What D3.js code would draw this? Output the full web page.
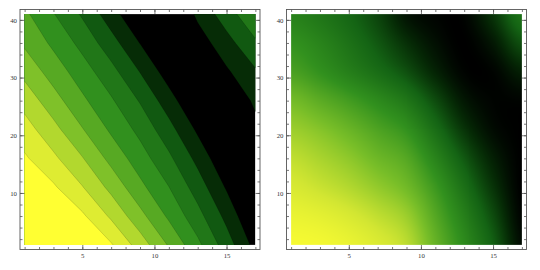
<!DOCTYPE html>
<html>
<head>
<meta charset="utf-8">
<script src="https://cdn.jsdelivr.net/npm/d3@7"></script>
<style>
  body { margin: 0; background: #fff; }
  svg { display: block; }
  .tick text { font-family: "Liberation Serif", "DejaVu Serif", serif; font-size: 6.8px; }
  .tick line { stroke: #555; stroke-width: 0.8; }
</style>
</head>
<body>
<div class="chart"></div>
<script>
// grid nodes (data coords)
const gridX = [1, 3, 5, 7, 9, 11, 13, 15, 17];
const gridY = [1, 6, 11, 16, 21, 26, 31, 36, 41];

const xTicks = [5, 10, 15];
const yTicks = [10, 20, 30, 40];

// contour levels, left panel
const contourLevels = [1, 2, 3, 4, 5, 6, 7, 8, 9];

// left panel values, rows from y=1 (bottom) to y=41 (top)
const contourRows = [
  [12.5, 11.5, 10.5, 9.1, 7.54, 5.9, 4.25, 2.5, 0.65],
  [11.8, 10.5, 9.17, 7.83, 6.32, 4.82, 3.35, 1.71, -0.1],
  [10.24, 9.14, 8.05, 6.71, 5.27, 4.02, 2.53, 0.89, -0.5],
  [9.14, 8.21, 7.06, 5.69, 4.46, 3.21, 1.70, 0.09, -0.3],
  [8.44, 7.32, 6.06, 4.83, 3.72, 2.36, 0.82, -0.3, 0.55],
  [7.62, 6.41, 5.2, 4.13, 2.92, 1.45, -0.07, -0.4, 1.28],
  [6.7, 5.55, 4.47, 3.34, 1.97, 0.48, -0.4, 0.85, 1.87],
  [5.83, 4.79, 3.69, 2.41, 0.97, -0.4, 0.47, 1.62, 2.85],
  [5.2, 4.05, 2.87, 1.43, 0.0, -0.4, 1.22, 2.53, 3.84]
];

// right panel values (0..1), rows from y=1 (bottom) to y=41 (top)
const densityRows = [
  [0.97, 0.96, 0.93, 0.88, 0.80, 0.60, 0.42, 0.24, 0.03],
  [0.93, 0.91, 0.87, 0.81, 0.73, 0.55, 0.37, 0.19, 0.01],
  [0.87, 0.83, 0.78, 0.71, 0.63, 0.48, 0.30, 0.13, 0.00],
  [0.81, 0.76, 0.70, 0.62, 0.55, 0.39, 0.22, 0.08, 0.00],
  [0.73, 0.68, 0.61, 0.53, 0.45, 0.29, 0.13, 0.03, 0.00],
  [0.64, 0.57, 0.50, 0.42, 0.33, 0.19, 0.06, 0.01, 0.01],
  [0.52, 0.45, 0.37, 0.29, 0.20, 0.09, 0.01, 0.01, 0.08],
  [0.45, 0.39, 0.31, 0.22, 0.12, 0.04, 0.00, 0.06, 0.20],
  [0.38, 0.33, 0.26, 0.17, 0.05, 0.01, 0.01, 0.13, 0.31]
];

// avocado-like ramp: black -> green -> yellow
const ramp = d3.scaleLinear()
    .domain([0, 0.1, 0.25, 0.45, 0.65, 0.85, 1])
    .range(["#000000", "#052805", "#146414", "#32911e", "#78be28", "#d2e632", "#ffff32"])
    .clamp(true);
const bandColor = k => ramp(k / contourLevels.length);

const frameSize = 240, frameTop = 9.5;
const padX = 0.02 * (gridX[gridX.length - 1] - gridX[0]),
      padY = 0.02 * (gridY[gridY.length - 1] - gridY[0]);

const svg = d3.select(".chart").append("svg")
    .attr("width", 540)
    .attr("height", 270);

function makeScales(left) {
    const x = d3.scaleLinear()
        .domain([gridX[0] - padX, gridX[gridX.length - 1] + padX])
        .range([left, left + frameSize]);
    const y = d3.scaleLinear()
        .domain([gridY[0] - padY, gridY[gridY.length - 1] + padY])
        .range([frameTop + frameSize, frameTop]);
    return { x, y };
}

function drawFrame(g, x, y, left) {
    const bottom = frameTop + frameSize, right = left + frameSize;
    const axes = g.append("g").attr("color", "#333");

    // minor ticks
    axes.append("g").attr("transform", "translate(0," + bottom + ")")
        .call(d3.axisBottom(x).ticks(16).tickSizeInner(-2.5).tickSizeOuter(0).tickFormat(""));
    axes.append("g").attr("transform", "translate(0," + frameTop + ")")
        .call(d3.axisTop(x).ticks(16).tickSizeInner(-2.5).tickSizeOuter(0).tickFormat(""));
    axes.append("g").attr("transform", "translate(" + left + ",0)")
        .call(d3.axisLeft(y).ticks(20).tickSizeInner(-2.5).tickSizeOuter(0).tickFormat(""));
    axes.append("g").attr("transform", "translate(" + right + ",0)")
        .call(d3.axisRight(y).ticks(20).tickSizeInner(-2.5).tickSizeOuter(0).tickFormat(""));

    // major ticks + labels
    axes.append("g").attr("transform", "translate(0," + bottom + ")")
        .call(d3.axisBottom(x).tickValues(xTicks).tickSizeInner(-4.5).tickSizeOuter(0).tickPadding(3.5));
    axes.append("g").attr("transform", "translate(0," + frameTop + ")")
        .call(d3.axisTop(x).tickValues(xTicks).tickSizeInner(-4.5).tickSizeOuter(0).tickFormat(""));
    axes.append("g").attr("transform", "translate(" + left + ",0)")
        .call(d3.axisLeft(y).tickValues(yTicks).tickSizeInner(-4.5).tickSizeOuter(0).tickPadding(3));
    axes.append("g").attr("transform", "translate(" + right + ",0)")
        .call(d3.axisRight(y).tickValues(yTicks).tickSizeInner(-4.5).tickSizeOuter(0).tickFormat(""));

    axes.selectAll(".domain").remove();
    axes.selectAll(".tick text").attr("fill", "#333");

    g.append("rect")
        .attr("x", left).attr("y", frameTop)
        .attr("width", frameSize).attr("height", frameSize)
        .attr("fill", "none")
        .attr("stroke", "#555")
        .attr("stroke-width", 0.9);
}

function addClip(id, x, y) {
    svg.append("clipPath").attr("id", id)
        .append("rect")
        .attr("x", x(gridX[0]))
        .attr("y", y(gridY[gridY.length - 1]))
        .attr("width", x(gridX[gridX.length - 1]) - x(gridX[0]))
        .attr("height", y(gridY[0]) - y(gridY[gridY.length - 1]));
}

// ---------- left: contour plot ----------
(function () {
    const left = 20;
    const { x, y } = makeScales(left);
    addClip("clipL", x, y);
    const g = svg.append("g");
    const plot = g.append("g").attr("clip-path", "url(#clipL)");

    plot.append("rect")
        .attr("x", x(gridX[0])).attr("y", y(gridY[gridY.length - 1]))
        .attr("width", x(gridX[gridX.length - 1]) - x(gridX[0]))
        .attr("height", y(gridY[0]) - y(gridY[gridY.length - 1]))
        .attr("fill", bandColor(0));

    const stepX = gridX[1] - gridX[0], stepY = gridY[1] - gridY[0];
    const proj = d3.geoTransform({
        point: function (px, py) {
            this.stream.point(x(gridX[0] + (px - 0.5) * stepX), y(gridY[0] + (py - 0.5) * stepY));
        }
    });
    const path = d3.geoPath(proj);

    const contours = d3.contours()
        .size([gridX.length, gridY.length])
        .thresholds(contourLevels)(contourRows.flat());

    plot.selectAll("path.band")
        .data(contours)
        .enter().append("path")
        .attr("class", "band")
        .attr("d", path)
        .attr("fill", (d, i) => bandColor(i + 1))
        .attr("stroke", "rgba(0,0,0,0.25)")
        .attr("stroke-width", 0.6);

    drawFrame(g, x, y, left);
})();

// ---------- right: density plot ----------
(function () {
    const left = 286.5;
    const { x, y } = makeScales(left);
    const g = svg.append("g");

    const x0 = x(gridX[0]), x1 = x(gridX[gridX.length - 1]);
    const y0 = y(gridY[gridY.length - 1]), y1 = y(gridY[0]);
    const cw = Math.round(x1 - x0), ch = Math.round(y1 - y0);

    const nx = gridX.length, ny = gridY.length;
    const at = (j, i) => densityRows[Math.max(0, Math.min(ny - 1, j))][Math.max(0, Math.min(nx - 1, i))];
    // catmull-rom weights
    function cr(p0, p1, p2, p3, t) {
        return 0.5 * (2 * p1 + (-p0 + p2) * t + (2 * p0 - 5 * p1 + 4 * p2 - p3) * t * t + (-p0 + 3 * p1 - 3 * p2 + p3) * t * t * t);
    }
    function valueAt(dx, dy) {
        let gi = (dx - gridX[0]) / (gridX[1] - gridX[0]);
        let gj = (dy - gridY[0]) / (gridY[1] - gridY[0]);
        gi = Math.max(0, Math.min(nx - 1, gi));
        gj = Math.max(0, Math.min(ny - 1, gj));
        const i = Math.min(nx - 2, Math.floor(gi)), j = Math.min(ny - 2, Math.floor(gj));
        const tx = gi - i, ty = gj - j;
        const rows = [-1, 0, 1, 2].map(o => cr(at(j + o, i - 1), at(j + o, i), at(j + o, i + 1), at(j + o, i + 2), tx));
        return cr(rows[0], rows[1], rows[2], rows[3], ty);
    }

    const canvas = document.createElement("canvas");
    canvas.width = cw; canvas.height = ch;
    const ctx = canvas.getContext("2d");
    const img = ctx.createImageData(cw, ch);
    for (let py = 0; py < ch; py++) {
        const dy = y.invert(y0 + (py + 0.5) * (y1 - y0) / ch);
        for (let px = 0; px < cw; px++) {
            const dx = x.invert(x0 + (px + 0.5) * (x1 - x0) / cw);
            const c = d3.rgb(ramp(valueAt(dx, dy)));
            const k = (py * cw + px) * 4;
            img.data[k] = c.r; img.data[k + 1] = c.g; img.data[k + 2] = c.b; img.data[k + 3] = 255;
        }
    }
    ctx.putImageData(img, 0, 0);

    g.append("image")
        .attr("x", x0).attr("y", y0)
        .attr("width", x1 - x0).attr("height", y1 - y0)
        .attr("preserveAspectRatio", "none")
        .attr("href", canvas.toDataURL());

    drawFrame(g, x, y, left);
})();
</script>
</body>
</html>
